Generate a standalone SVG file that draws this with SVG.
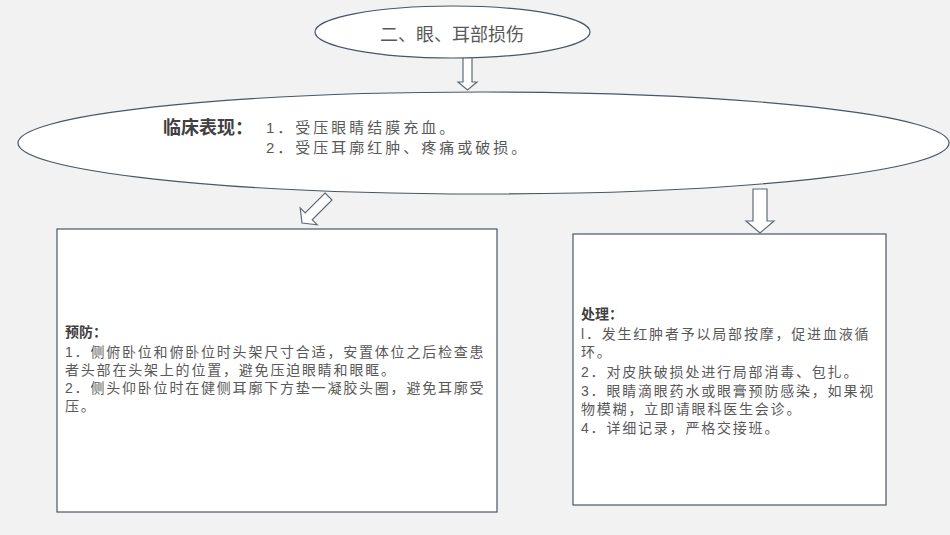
<svg xmlns="http://www.w3.org/2000/svg" width="950" height="535" viewBox="0 0 950 535">
<style>
.shape{fill:#ffffff;stroke:#4a5665;stroke-width:1.2}
.arrow{fill:#ffffff;stroke:#5f6b78;stroke-width:1.2;stroke-linejoin:miter}
.t{font-family:"Liberation Sans","Noto Sans CJK SC",sans-serif;fill:#595959}
.body{font-size:14px;letter-spacing:1.8px}
.lbl{font-size:14px;font-weight:bold;fill:#404040}
.big{font-size:15px;letter-spacing:3px}
</style>
<rect x="0" y="0" width="950" height="535" fill="#f2f2f2"/>
<g id="connectors">
<path class="arrow" d="M463,57 L472,57 L472,82 L477,82 L467.5,90 L458,82 L463,82 Z"/>
<path class="arrow" d="M325,193 L332,200 L312.2,219.8 L317.2,224.8 L302,223 L300.2,207.8 L305.2,212.8 Z"/>
<path class="arrow" d="M753,189 L767,189 L767,221 L774,221 L760,233 L746,221 L753,221 Z"/>
</g>
<g id="title">
<ellipse class="shape" cx="452.5" cy="32" rx="137.5" ry="26"/>
<text class="t" x="452" y="41" font-size="18" text-anchor="middle">二、眼、耳部损伤</text>
</g>
<g id="clinical">
<ellipse class="shape" cx="483.5" cy="143" rx="465.5" ry="51"/>
<text class="t" x="163" y="134" font-size="18" font-weight="bold" style="fill:#404040">临床表现：</text>
<text class="t big" x="266" y="133">1．受压眼睛结膜充血。</text>
<text class="t big" x="266" y="153">2．受压耳廓红肿、疼痛或破损。</text>
</g>
<g id="prevention">
<rect class="shape" x="57" y="229" width="440" height="283"/>
<text class="t lbl" x="65" y="337">预防：</text>
<text class="t body" x="65" y="357">1．侧俯卧位和俯卧位时头架尺寸合适，安置体位之后检查患</text>
<text class="t body" x="65" y="375">者头部在头架上的位置，避免压迫眼睛和眼眶。</text>
<text class="t body" x="65" y="393">2．侧头仰卧位时在健侧耳廓下方垫一凝胶头圈，避免耳廓受</text>
<text class="t body" x="65" y="411">压。</text>
</g>
<g id="treatment">
<rect class="shape" x="573" y="234" width="313" height="271"/>
<text class="t lbl" x="581" y="319">处理：</text>
<text class="t body" x="581" y="339">l．发生红肿者予以局部按摩，促进血液循</text>
<text class="t body" x="581" y="357">环。</text>
<text class="t body" x="581" y="377">2．对皮肤破损处进行局部消毒、包扎。</text>
<text class="t body" x="581" y="396">3．眼睛滴眼药水或眼膏预防感染，如果视</text>
<text class="t body" x="581" y="414">物模糊，立即请眼科医生会诊。</text>
<text class="t body" x="581" y="433">4．详细记录，严格交接班。</text>
</g>
</svg>
